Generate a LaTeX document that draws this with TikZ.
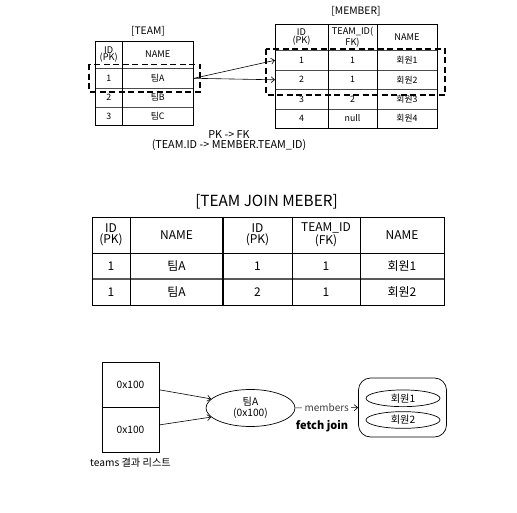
\documentclass[tikz,border=0pt]{standalone}
\usepackage{fontspec}
\setmainfont{Noto Sans CJK KR}
\usetikzlibrary{arrows.meta,shapes.geometric}
\begin{document}
\begin{tikzpicture}[x=1pt,y=-1pt,
  tline/.style={draw=black,line width=0.7pt},
  rline/.style={draw=black!70,line width=0.6pt},
  dashbox/.style={draw=black,line width=1.3pt,dash pattern=on 6pt off 3.5pt},
  arr/.style={draw=black,line width=0.6pt,-{Straight Barb[length=3.5pt,width=6pt]}},
  sm/.style={inner sep=0pt,align=center,font=\fontsize{8.8}{8.8}\selectfont},
  smh/.style={inner sep=0pt,align=center,font=\fontsize{9.2}{7.8}\selectfont},
  ttl/.style={inner sep=0pt,font=\fontsize{10.3}{10.3}\selectfont},
  md/.style={inner sep=0pt,align=center,font=\fontsize{12}{10.5}\selectfont},
  bt/.style={inner sep=0pt,align=center,font=\fontsize{10.2}{10.5}\selectfont}]
\useasboundingbox (0,0) rectangle (517,513);

% ---------- TEAM table ----------
\node[ttl] (teamT) at (148,31) {[TEAM]};
\draw[rline] (95,68.5) -- (193,68.5) (95,88) -- (193,88) (95,107) -- (193,107);
\draw[tline] (95,41) rectangle (193,125.5);
\draw[tline] (122.5,41) -- (122.5,125.5);
\node[smh] (th1) at (108.7,54.5) {ID\\(PK)};
\node[smh] (th2) at (157.7,54.5) {NAME};
\node[sm] (t11) at (108.7,78.3) {1};
\node[sm] (t12) at (157.7,78.3) {팀A};
\node[sm] (t21) at (108.7,97.5) {2};
\node[sm] (t22) at (157.7,97.5) {팀B};
\node[sm] (t31) at (108.7,116.3) {3};
\node[sm] (t32) at (157.7,116.3) {팀C};

% ---------- MEMBER table ----------
\node[ttl] (memT) at (356,11) {[MEMBER]};
\draw[rline] (275,50.5) -- (437,50.5) (275,70) -- (437,70) (275,89.5) -- (437,89.5) (275,109) -- (437,109);
\draw[tline] (275,24) rectangle (437,128);
\draw[tline] (328,24) -- (328,128) (377,24) -- (377,128);
\node[smh] (mh1) at (301.5,37) {ID\\(PK)};
\node[smh] (mh2) at (352.5,37) {TEAM\_ID(\\FK)};
\node[smh] (mh3) at (407,37) {NAME};
\node[sm] (m11) at (301.5,60.3) {1};
\node[sm] (m12) at (352.5,60.3) {1};
\node[sm] (m13) at (407,60.3) {회원1};
\node[sm] (m21) at (301.5,79.8) {2};
\node[sm] (m22) at (352.5,79.8) {1};
\node[sm] (m23) at (407,79.8) {회원2};
\node[sm] (m31) at (301.5,99.3) {3};
\node[sm] (m32) at (352.5,99.3) {2};
\node[sm] (m33) at (407,99.3) {회원3};
\node[sm] (m41) at (301.5,118.5) {4};
\node[sm] (m42) at (352.5,118.5) {null};
\node[sm] (m43) at (407,118.5) {회원4};

% dashed selections
\draw[dashbox] (89,64.5) rectangle (200,92);
\draw[dashbox] (266,49) rectangle (445,95);

% arrows
\coordinate (ta) at (194,78.3);
\coordinate (ma) at (275,60.3);
\coordinate (mb) at (275,79.8);
\draw[arr] (ta) -- (ma);
\draw[arr] (ta) -- (mb);

\node[inner sep=0pt,align=center,font=\fontsize{10.8}{10.2}\selectfont] (pk) at (229,140.5) {PK -> FK\\(TEAM.ID -> MEMBER.TEAM\_ID)};

% ---------- TEAM JOIN MEMBER ----------
\node[inner sep=0pt,font=\fontsize{15.3}{15}\selectfont] (jT) at (266.5,202) {[TEAM JOIN MEBER]};
\draw[draw=black!65,line width=1.4pt] (92,279) -- (444,279);
\draw[tline] (92,253) -- (444,253);
\draw[tline] (92,217) rectangle (444,305);
\draw[tline] (130,217) -- (130,305) (292,217) -- (292,305) (360,217) -- (360,305);
\draw[draw=black,line width=1.8pt] (223,217) -- (223,305);
\node[md] (j01) at (111,235) {ID\\(PK)};
\node[md] (j02) at (176.5,235) {NAME};
\node[md] (j03) at (257.5,235) {ID\\(PK)};
\node[md] (j04) at (326,235) {TEAM\_ID\\(FK)};
\node[md] (j05) at (402,235) {NAME};
\node[md] (j11) at (111,266) {1};
\node[md] (j12) at (176.5,266) {팀A};
\node[md] (j13) at (257.5,266) {1};
\node[md] (j14) at (326,266) {1};
\node[md] (j15) at (402,266) {회원1};
\node[md] (j21) at (111,292) {1};
\node[md] (j22) at (176.5,292) {팀A};
\node[md] (j23) at (257.5,292) {2};
\node[md] (j24) at (326,292) {1};
\node[md] (j25) at (402,292) {회원2};

% ---------- bottom ----------
\node[draw,line width=0.7pt,minimum width=57pt,minimum height=45.3pt,inner sep=0pt,outer sep=0pt,font=\fontsize{10.2}{10.5}\selectfont] (b1) at (130.5,384.7) {0x100};
\node[draw,line width=0.7pt,minimum width=57pt,minimum height=45.3pt,inner sep=0pt,outer sep=0pt,font=\fontsize{10.2}{10.5}\selectfont] (b2) at (130.5,430) {0x100};
\node[bt] (tl) at (130.5,463) {teams 결과 리스트};
\node[ellipse,draw,line width=0.7pt,minimum width=89pt,minimum height=37pt,inner sep=0pt,bt] (ea) at (250.5,408) {팀A\\(0x100)};
\draw[arr] (b1.-10) -- (ea.167);
\draw[arr] (b2.10) -- (ea.193);
\node[draw,line width=0.7pt,rounded corners=12pt,minimum width=88pt,minimum height=59pt,inner sep=0pt] (rb) at (402.5,407.5) {};
\node[ellipse,draw,line width=0.7pt,minimum width=74pt,minimum height=16.7pt,inner sep=0pt,bt] (r1) at (403,398.3) {회원1};
\node[ellipse,draw,line width=0.7pt,minimum width=74pt,minimum height=16.7pt,inner sep=0pt,bt] (r2) at (403,420) {회원2};
\draw[arr] (ea) -- (rb) node[midway,fill=white,inner sep=2.5pt,text=black!75,font=\fontsize{10}{10}\selectfont] (mem) {members};
\node[inner sep=0pt,font=\fontsize{11}{11}\selectfont\bfseries] (fj) at (322,426.5) {fetch join};
\end{tikzpicture}
\end{document}
